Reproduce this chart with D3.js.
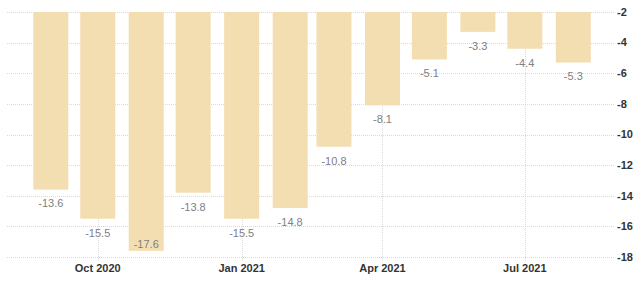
<!DOCTYPE html>
<html>
<head>
<meta charset="utf-8">
<script src="https://cdn.jsdelivr.net/npm/d3@7"></script>
<style>
  body { margin: 0; background: #fff; }
  svg { display: block; font-family: "Liberation Sans", Arial, sans-serif; }
</style>
</head>
<body>
<div id="chart"></div>
<script>
// monthly values, Sep 2020 .. Aug 2021
const months = ["2020-09","2020-10","2020-11","2020-12","2021-01","2021-02",
                "2021-03","2021-04","2021-05","2021-06","2021-07","2021-08"];
const values = [-13.6, -15.5, -17.6, -13.8, -15.5, -14.8, -10.8, -8.1, -5.1, -3.3, -4.4, -5.3];
const yTicks = [-2, -4, -6, -8, -10, -12, -14, -16, -18];
const xTicks = ["2020-10", "2021-01", "2021-04", "2021-07"];

const width = 640, height = 287;
const parse = d3.timeParse("%Y-%m");
const fmt = d3.timeFormat("%b %Y");

const svg = d3.select("#chart").append("svg")
    .attr("width", width)
    .attr("height", height);

const x = d3.scaleTime()
    .domain([new Date(2020, 7, 4), new Date(2021, 7, 27)])
    .range([7, 614]);
const y = d3.scaleLinear()
    .domain([-18, -2])
    .range([257, 12]);

const barW = 35;

// horizontal grid
svg.append("g")
    .selectAll("line")
    .data(yTicks)
    .enter()
    .append("line")
    .attr("x1", 7)
    .attr("x2", 614)
    .attr("y1", d => Math.round(y(d)) + 0.5)
    .attr("y2", d => Math.round(y(d)) + 0.5)
    .attr("stroke", "#d9d9d9")
    .attr("stroke-dasharray", "1,1");

// vertical grid
svg.append("g")
    .selectAll("line")
    .data(xTicks)
    .enter()
    .append("line")
    .attr("x1", d => Math.round(x(parse(d))) + 0.5)
    .attr("x2", d => Math.round(x(parse(d))) + 0.5)
    .attr("y1", y(-2))
    .attr("y2", 261)
    .attr("stroke", "#d9d9d9")
    .attr("stroke-dasharray", "1,1");

// bars
svg.append("g")
    .selectAll("rect")
    .data(values)
    .enter()
    .append("rect")
    .attr("x", (d, i) => x(parse(months[i])) - barW / 2)
    .attr("y", y(-2))
    .attr("width", barW)
    .attr("height", d => y(d) - y(-2))
    .attr("fill", "#f3deb2");

// value labels
svg.append("g")
    .selectAll("text")
    .data(values)
    .enter()
    .append("text")
    .attr("x", (d, i) => x(parse(months[i])))
    .attr("y", d => d < -17 ? y(d) - 7 : y(d) + 14)
    .attr("dy", "0.35em")
    .attr("text-anchor", "middle")
    .attr("font-size", 11)
    .attr("fill", "#808080")
    .text(d => d.toFixed(1));

// y tick labels on the right
svg.append("g")
    .selectAll("text")
    .data(yTicks)
    .enter()
    .append("text")
    .attr("x", 617)
    .attr("y", d => y(d))
    .attr("dy", "0.35em")
    .attr("font-size", 11)
    .attr("font-weight", "bold")
    .attr("fill", "#333")
    .text(d => d);

// x tick labels
svg.append("g")
    .selectAll("text")
    .data(xTicks)
    .enter()
    .append("text")
    .attr("x", d => x(parse(d)))
    .attr("y", 268)
    .attr("dy", "0.35em")
    .attr("text-anchor", "middle")
    .attr("font-size", 11)
    .attr("font-weight", "bold")
    .attr("fill", "#333")
    .text(d => fmt(parse(d)));
</script>
</body>
</html>
